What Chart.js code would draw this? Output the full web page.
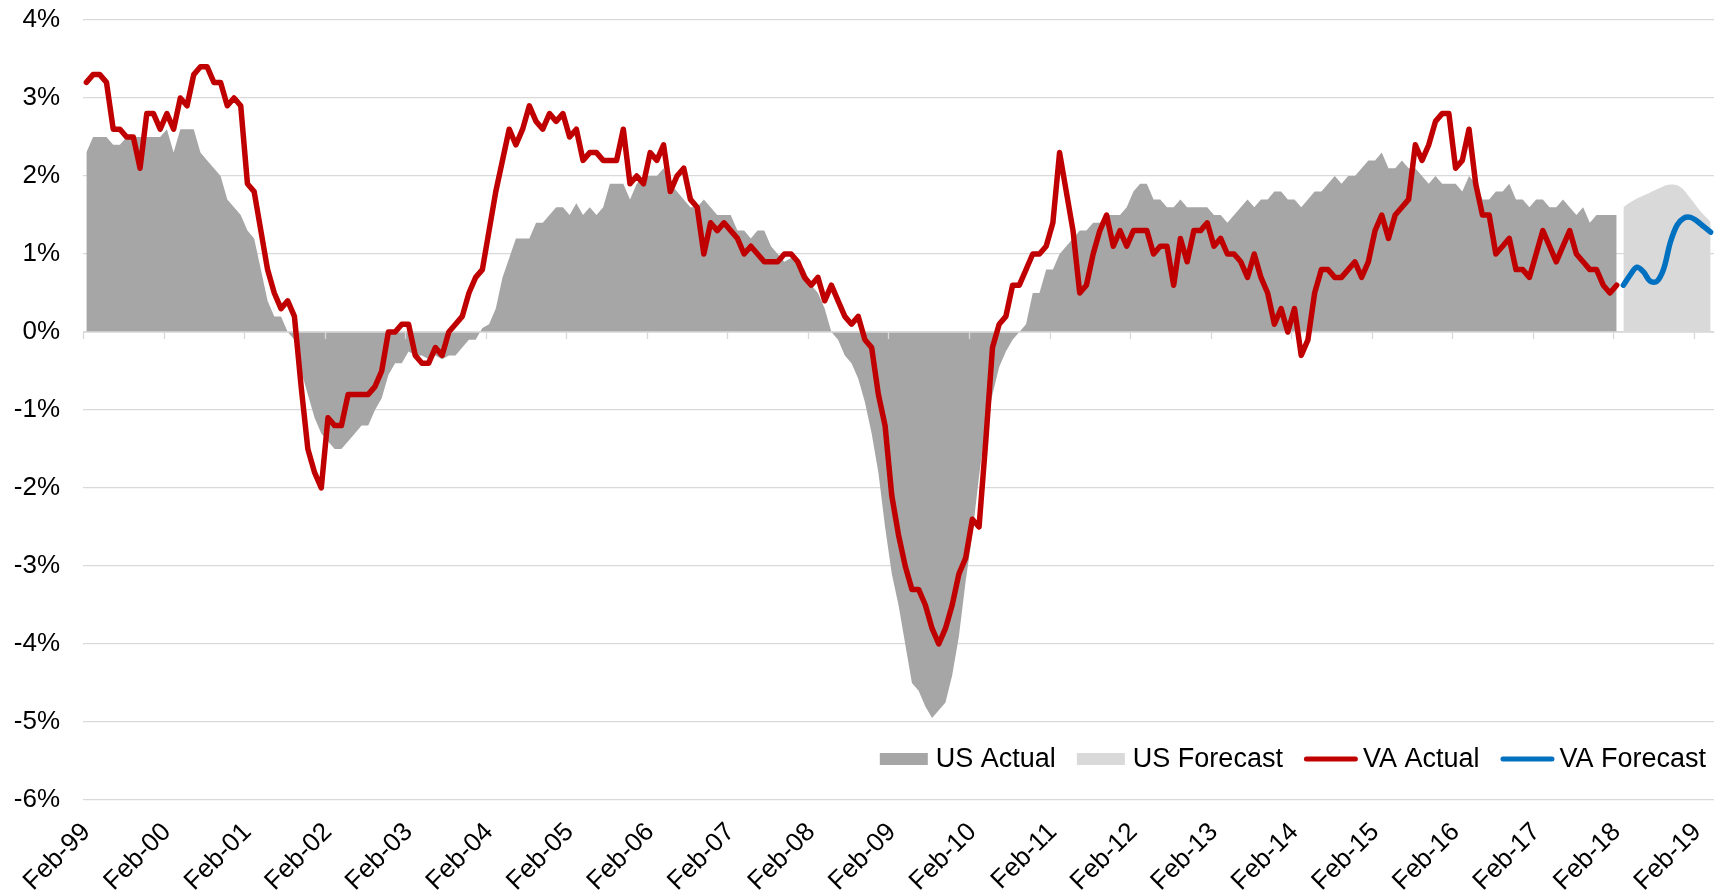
<!DOCTYPE html>
<html>
<head>
<meta charset="utf-8">
<title>US vs VA job growth</title>
<script src="https://cdn.jsdelivr.net/npm/chart.js@4.4.1/dist/chart.umd.min.js"></script>
<style>
html, body { margin: 0; padding: 0; background: #fff; }
#wrap { position: relative; width: 1721px; height: 893px; }
</style>
</head>
<body>
<div id="wrap"><canvas id="myChart" width="1721" height="893"></canvas></div>
<script>
// ==========================================================
//         data (monthly, Feb-99 .. Apr-19)
// ==========================================================
var FIRST_YEAR = 1999;
var FIRST_MONTH = 1; // Feb
var N_MONTHS = 243;
var MONTH_NAMES = ["Jan","Feb","Mar","Apr","May","Jun","Jul","Aug","Sep","Oct","Nov","Dec"];

var yTicks = [-6, -5, -4, -3, -2, -1, 0, 1, 2, 3, 4];

// one row per year, Feb .. Jan
var usActual = [
  2.3, 2.5, 2.5, 2.5, 2.4, 2.4, 2.5, 2.5, 2.5, 2.5, 2.5, 2.5,
  2.6, 2.3, 2.6, 2.6, 2.6, 2.3, 2.2, 2.1, 2.0, 1.7, 1.6, 1.5,
  1.3, 1.2, 0.8, 0.4, 0.2, 0.2, 0.0, -0.1, -0.5, -0.8, -1.1, -1.3,
  -1.4, -1.5, -1.5, -1.4, -1.3, -1.2, -1.2, -1.0, -0.85, -0.55, -0.4, -0.4,
  -0.25, -0.3, -0.3, -0.35, -0.3, -0.35, -0.3, -0.3, -0.2, -0.1, -0.1, 0.05,
  0.1, 0.3, 0.7, 0.95, 1.2, 1.2, 1.2, 1.4, 1.4, 1.5, 1.6, 1.6,
  1.5, 1.65, 1.5, 1.6, 1.5, 1.6, 1.9, 1.9, 1.9, 1.7, 1.9, 2.0,
  2.0, 2.0, 2.1, 1.9, 1.8, 1.7, 1.6, 1.6, 1.7, 1.6, 1.5, 1.5,
  1.5, 1.3, 1.3, 1.2, 1.3, 1.3, 1.1, 1.0, 0.9, 0.95, 0.9, 0.8,
  0.6, 0.5, 0.3, 0.0, -0.1, -0.3, -0.4, -0.6, -0.9, -1.3, -1.8, -2.5,
  -3.1, -3.5, -4.0, -4.5, -4.6, -4.8, -4.95, -4.85, -4.75, -4.4, -3.9, -3.2,
  -2.6, -1.85, -1.2, -0.8, -0.45, -0.25, -0.1, 0.0, 0.1, 0.5, 0.5, 0.8,
  0.8, 1.0, 1.1, 1.2, 1.3, 1.3, 1.4, 1.4, 1.5, 1.5, 1.5, 1.6,
  1.8, 1.9, 1.9, 1.7, 1.7, 1.6, 1.6, 1.7, 1.6, 1.6, 1.6, 1.6,
  1.5, 1.5, 1.4, 1.5, 1.6, 1.7, 1.6, 1.7, 1.7, 1.8, 1.8, 1.7,
  1.7, 1.6, 1.7, 1.8, 1.8, 1.9, 2.0, 1.9, 2.0, 2.0, 2.1, 2.2,
  2.2, 2.3, 2.1, 2.1, 2.2, 2.1, 2.1, 2.0, 1.9, 2.0, 1.9, 1.9,
  1.9, 1.8, 2.0, 1.9, 1.7, 1.7, 1.8, 1.8, 1.9, 1.7, 1.7, 1.6,
  1.7, 1.7, 1.6, 1.6, 1.7, 1.6, 1.5, 1.6, 1.4, 1.5, 1.5, 1.5,
  1.5
];

var vaActual = [
  3.2, 3.3, 3.3, 3.2, 2.6, 2.6, 2.5, 2.5, 2.1, 2.8, 2.8, 2.6,
  2.8, 2.6, 3.0, 2.9, 3.3, 3.4, 3.4, 3.2, 3.2, 2.9, 3.0, 2.9,
  1.9, 1.8, 1.3, 0.8, 0.5, 0.3, 0.4, 0.2, -0.7, -1.5, -1.8, -2.0,
  -1.1, -1.2, -1.2, -0.8, -0.8, -0.8, -0.8, -0.7, -0.5, 0.0, 0.0, 0.1,
  0.1, -0.3, -0.4, -0.4, -0.2, -0.3, 0.0, 0.1, 0.2, 0.5, 0.7, 0.8,
  1.3, 1.8, 2.2, 2.6, 2.4, 2.6, 2.9, 2.7, 2.6, 2.8, 2.7, 2.8,
  2.5, 2.6, 2.2, 2.3, 2.3, 2.2, 2.2, 2.2, 2.6, 1.9, 2.0, 1.9,
  2.3, 2.2, 2.4, 1.8, 2.0, 2.1, 1.7, 1.6, 1.0, 1.4, 1.3, 1.4,
  1.3, 1.2, 1.0, 1.1, 1.0, 0.9, 0.9, 0.9, 1.0, 1.0, 0.9, 0.7,
  0.6, 0.7, 0.4, 0.6, 0.4, 0.2, 0.1, 0.2, -0.1, -0.2, -0.8, -1.2,
  -2.1, -2.6, -3.0, -3.3, -3.3, -3.5, -3.8, -4.0, -3.8, -3.5, -3.1, -2.9,
  -2.4, -2.5, -1.4, -0.2, 0.1, 0.2, 0.6, 0.6, 0.8, 1.0, 1.0, 1.1,
  1.4, 2.3, 1.8, 1.3, 0.5, 0.6, 1.0, 1.3, 1.5, 1.1, 1.3, 1.1,
  1.3, 1.3, 1.3, 1.0, 1.1, 1.1, 0.6, 1.2, 0.9, 1.3, 1.3, 1.4,
  1.1, 1.2, 1.0, 1.0, 0.9, 0.7, 1.0, 0.7, 0.5, 0.1, 0.3, 0.0,
  0.3, -0.3, -0.1, 0.5, 0.8, 0.8, 0.7, 0.7, 0.8, 0.9, 0.7, 0.9,
  1.3, 1.5, 1.2, 1.5, 1.6, 1.7, 2.4, 2.2, 2.4, 2.7, 2.8, 2.8,
  2.1, 2.2, 2.6, 1.9, 1.5, 1.5, 1.0, 1.1, 1.2, 0.8, 0.8, 0.7,
  1.0, 1.3, 1.1, 0.9, 1.1, 1.3, 1.0, 0.9, 0.8, 0.8, 0.6, 0.5,
  0.6
];

// Mar-18 .. Apr-19
var usForecast = [1.6, 1.66, 1.71, 1.75, 1.79, 1.83, 1.87, 1.89, 1.88, 1.82, 1.71, 1.6, 1.5, 1.41];
var vaForecast = [0.6, 0.73, 0.83, 0.77, 0.65, 0.65, 0.81, 1.15, 1.37, 1.46, 1.47, 1.42, 1.35, 1.28];

// ==========================================================
//         helpers
// ==========================================================
var months = [];
for (var k = 0; k < N_MONTHS; k++) {
  var m = (FIRST_MONTH + k) % 12;
  var yr = FIRST_YEAR + Math.floor((FIRST_MONTH + k) / 12);
  months.push(MONTH_NAMES[m] + "-" + String(yr % 100).padStart(2, "0"));
}

function padEnd(arr, n) {
  var out = arr.slice();
  while (out.length < n) out.push(null);
  return out;
}
function padStart(arr, n) {
  var out = [];
  for (var k = 0; k < n - arr.length; k++) out.push(null);
  return out.concat(arr);
}

var FONT = "'Liberation Sans', Arial, sans-serif";
var GRID = "#D9D9D9";

// axis line at 0% with year ticks, drawn over the areas but under the lines
var zeroAxis = {
  id: "zeroAxis",
  afterDatasetDraw: function(chart, args) {
    if (args.index !== 1) return;
    var xs = chart.scales.x, ys = chart.scales.y, ctx = chart.ctx;
    var y0 = ys.getPixelForValue(0);
    var half = (xs.getPixelForValue(1) - xs.getPixelForValue(0)) / 2;
    ctx.save();
    ctx.strokeStyle = GRID;
    ctx.lineWidth = 1.3;
    ctx.beginPath();
    ctx.moveTo(chart.chartArea.left, y0);
    ctx.lineTo(chart.chartArea.right, y0);
    for (var i = 0; i < months.length; i++) {
      if (months[i].indexOf("Feb") !== 0) continue;
      var x = Math.round(xs.getPixelForValue(i) - half) + 0.5;
      ctx.moveTo(x, y0);
      ctx.lineTo(x, y0 + 7);
    }
    ctx.stroke();
    ctx.restore();
  }
};

// legend in the bottom right corner of the plot
var cornerLegend = {
  id: "cornerLegend",
  afterDraw: function(chart) {
    var ctx = chart.ctx, area = chart.chartArea;
    var items = chart.data.datasets.map(function(d) {
      var box = d.fill === "origin";
      return { label: d.label, box: box, color: box ? d.backgroundColor : d.borderColor };
    });
    ctx.save();
    ctx.font = "27px " + FONT;
    ctx.textBaseline = "middle";
    ctx.textAlign = "left";
    var total = 0;
    items.forEach(function(it, i) {
      it.sw = it.box ? 48 : 54;
      it.gap = it.box ? 8 : 5;
      it.tw = ctx.measureText(it.label).width;
      total += it.sw + it.gap + it.tw + (i > 0 ? 21 : 0);
    });
    var x = area.right - 8 - total;
    var y = area.bottom - 41;
    items.forEach(function(it, i) {
      if (i > 0) x += 21;
      if (it.box) {
        ctx.fillStyle = it.color;
        ctx.fillRect(x, y - 6, it.sw, 12);
      } else {
        ctx.strokeStyle = it.color;
        ctx.lineWidth = 5;
        ctx.lineCap = "round";
        ctx.beginPath();
        ctx.moveTo(x + 2.5, y);
        ctx.lineTo(x + it.sw - 2.5, y);
        ctx.stroke();
      }
      x += it.sw + it.gap;
      ctx.fillStyle = "#000";
      ctx.fillText(it.label, x, y + 1);
      x += it.tw;
    });
    ctx.restore();
  }
};

// ==========================================================
//         chart
// ==========================================================
Chart.defaults.font.family = FONT;
Chart.defaults.font.size = 26;
Chart.defaults.color = "#000";

var ctx = document.getElementById("myChart").getContext("2d");
var chart = new Chart(ctx, {
  type: "line",
  data: {
    labels: months,
    datasets: [{
      label: "US Actual",
      data: padEnd(usActual, N_MONTHS),
      fill: "origin",
      backgroundColor: "#A6A6A6",
      borderColor: "rgba(0,0,0,0)",
      borderWidth: 0,
      pointRadius: 0,
      tension: 0,
      order: 4
    }, {
      label: "US Forecast",
      data: padStart(usForecast, N_MONTHS),
      fill: "origin",
      backgroundColor: "#D9D9D9",
      borderColor: "rgba(0,0,0,0)",
      borderWidth: 0,
      pointRadius: 0,
      tension: 0.3,
      order: 3
    }, {
      label: "VA Actual",
      data: padEnd(vaActual, N_MONTHS),
      fill: false,
      borderColor: "#C00000",
      borderWidth: 5.5,
      borderJoinStyle: "round",
      borderCapStyle: "round",
      pointRadius: 0,
      tension: 0,
      order: 2
    }, {
      label: "VA Forecast",
      data: padStart(vaForecast, N_MONTHS),
      fill: false,
      borderColor: "#0070C0",
      borderWidth: 5.5,
      borderJoinStyle: "round",
      borderCapStyle: "round",
      pointRadius: 0,
      tension: 0.35,
      order: 1
    }]
  },
  options: {
    responsive: false,
    animation: false,
    devicePixelRatio: 1,
    layout: { padding: { top: 20, right: 7, left: 0, bottom: 0 } },
    plugins: {
      legend: { display: false },
      tooltip: { enabled: false }
    },
    scales: {
      x: {
        type: "category",
        offset: true,
        grid: { display: false, drawTicks: false },
        border: { display: false },
        ticks: { autoSkip: false, minRotation: 45, maxRotation: 45, padding: 17 },
        afterBuildTicks: function(axis) {
          axis.ticks = axis.ticks.filter(function(t) { return months[t.value].indexOf("Feb") === 0; });
        },
        afterFit: function(axis) {
          axis.height = 93;
          axis.paddingRight = 0;
        }
      },
      y: {
        min: yTicks[0],
        max: yTicks[yTicks.length - 1],
        grid: { color: GRID, lineWidth: 1.3, drawTicks: false },
        border: { display: false },
        ticks: {
          stepSize: 1,
          padding: 23,
          callback: function(v) { return v + "%"; }
        },
        afterFit: function(axis) {
          axis.width = 83;
          axis.paddingTop = 0;
          axis.paddingBottom = 0;
        }
      }
    }
  },
  plugins: [zeroAxis, cornerLegend]
});
</script>
</body>
</html>
